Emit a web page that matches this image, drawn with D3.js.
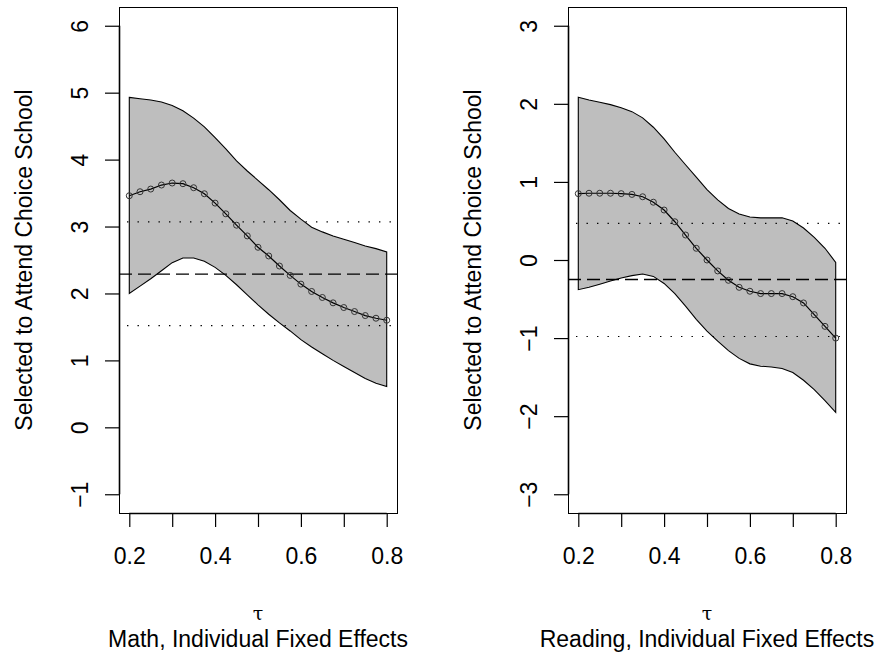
<!DOCTYPE html>
<html>
<head>
<meta charset="utf-8">
<script src="https://cdn.jsdelivr.net/npm/d3@7"></script>
<style>
body { margin: 0; background: #fff; }
text { font-family: "Liberation Sans", Arial, Helvetica, sans-serif; fill: #000; }
</style>
</head>
<body>
<svg id="figure_container"></svg>
<script>
// quantiles
var tau = [0.2, 0.225, 0.25, 0.275, 0.3, 0.325, 0.35, 0.375, 0.4, 0.425, 0.45, 0.475, 0.5,
	0.525, 0.55, 0.575, 0.6, 0.625, 0.65, 0.675, 0.7, 0.725, 0.75, 0.775, 0.8];

// math panel
var mathEst = [3.46, 3.52, 3.56, 3.62, 3.65, 3.64, 3.58, 3.49, 3.35, 3.19, 3.02, 2.86, 2.69,
	2.56, 2.41, 2.27, 2.14, 2.03, 1.94, 1.86, 1.79, 1.73, 1.67, 1.63, 1.60];
var mathUpper = [4.93, 4.91, 4.89, 4.86, 4.81, 4.73, 4.62, 4.49, 4.33, 4.16, 3.98, 3.83, 3.69,
	3.55, 3.40, 3.24, 3.11, 2.99, 2.92, 2.86, 2.81, 2.76, 2.71, 2.67, 2.62];
var mathLower = [2.00, 2.11, 2.22, 2.34, 2.46, 2.53, 2.53, 2.48, 2.39, 2.27, 2.13, 1.98, 1.83,
	1.69, 1.56, 1.44, 1.31, 1.20, 1.10, 1.00, 0.91, 0.82, 0.73, 0.66, 0.61];
var mathMean = 2.29,
	mathBounds = [3.07, 1.52],
	mathTicks = [-1, 0, 1, 2, 3, 4, 5, 6],
	mathLim = [-1, 6];

// reading panel
var readEst = [0.85, 0.855, 0.855, 0.855, 0.85, 0.84, 0.81, 0.74, 0.64, 0.49, 0.32, 0.15, 0.00,
	-0.14, -0.26, -0.35, -0.40, -0.43, -0.43, -0.43, -0.47, -0.55, -0.70, -0.85, -1.00];
var readUpper = [2.085, 2.05, 2.02, 1.99, 1.95, 1.90, 1.82, 1.70, 1.55, 1.38, 1.22, 1.06, 0.90,
	0.77, 0.66, 0.59, 0.55, 0.54, 0.54, 0.54, 0.50, 0.41, 0.29, 0.15, -0.03];
var readLower = [-0.38, -0.35, -0.31, -0.27, -0.23, -0.20, -0.18, -0.21, -0.30, -0.43, -0.59, -0.76, -0.91,
	-1.04, -1.16, -1.26, -1.33, -1.36, -1.37, -1.39, -1.44, -1.54, -1.66, -1.80, -1.95];
var readMean = -0.25,
	readBounds = [0.47, -0.98],
	readTicks = [-3, -2, -1, 0, 1, 2, 3],
	readLim = [-3, 3];

var xTicks = [0.2, 0.3, 0.4, 0.5, 0.6, 0.7, 0.8],
	xLabels = [0.2, 0.4, 0.6, 0.8],
	xLim = [0.2, 0.8];

var yTitle = "Selected to Attend Choice School",
	xTitle = "\u03c4",
	subtitles = ["Math, Individual Fixed Effects", "Reading, Individual Fixed Effects"];

var vis = d3.select("#figure_container"),
	plotwidth = 877,
	plotheight = 655,
	fontSize = 23;

vis.attr("width", plotwidth).attr("height", plotheight);
vis.append("rect").attr("width", plotwidth).attr("height", plotheight).attr("fill", "#fff");

var panels = [
	{left: 119, est: mathEst, upper: mathUpper, lower: mathLower, mean: mathMean,
		bounds: mathBounds, ticks: mathTicks, lim: mathLim, sub: subtitles[0]},
	{left: 568, est: readEst, upper: readUpper, lower: readLower, mean: readMean,
		bounds: readBounds, ticks: readTicks, lim: readLim, sub: subtitles[1]}
];

var boxW = 278, boxTop = 7, boxH = 506;

function ext(lim){
	// R style 4% axis extension
	var d = (lim[1] - lim[0]) * 0.04;
	return [lim[0] - d, lim[1] + d];
}

panels.forEach(function(p){
	var x = d3.scaleLinear().domain(ext(xLim)).range([p.left, p.left + boxW]),
		y = d3.scaleLinear().domain(ext(p.lim)).range([boxTop + boxH, boxTop]);

	var rows = tau.map(function(t, i){
		return {t: t, est: p.est[i], lo: p.lower[i], hi: p.upper[i]};
	});

	var g = vis.append("g");

	// confidence band
	var area = d3.area()
		.x(function(d){ return x(d.t); })
		.y0(function(d){ return y(d.lo); })
		.y1(function(d){ return y(d.hi); });
	g.append("path")
		.datum(rows)
		.attr("d", function(d){ return area(d) + "Z"; })
		.attr("fill", "#bebebe")
		.attr("stroke", "#000")
		.attr("stroke-width", 1.1);

	// reference lines
	var x0 = p.left, x1 = p.left + boxW;
	g.append("line")
		.attr("x1", x0).attr("x2", x1)
		.attr("y1", y(p.mean)).attr("y2", y(p.mean))
		.attr("stroke", "#000").attr("stroke-width", 1.3)
		.attr("stroke-dasharray", "13,6");
	g.selectAll("line.dot")
		.data(p.bounds)
		.enter()
		.append("line")
		.attr("class", "dot")
		.attr("x1", x0).attr("x2", x1)
		.attr("y1", function(d){ return y(d); })
		.attr("y2", function(d){ return y(d); })
		.attr("stroke", "#000").attr("stroke-width", 1.2)
		.attr("stroke-dasharray", "1.4,9.1")
		.attr("stroke-dashoffset", 2.5);

	// estimates
	var line = d3.line()
		.x(function(d){ return x(d.t); })
		.y(function(d){ return y(d.est); });
	g.append("path")
		.datum(rows)
		.attr("d", line)
		.attr("fill", "none")
		.attr("stroke", "#000")
		.attr("stroke-width", 1.2);
	g.selectAll("circle")
		.data(rows)
		.enter()
		.append("circle")
		.attr("cx", function(d){ return x(d.t); })
		.attr("cy", function(d){ return y(d.est); })
		.attr("r", 3)
		.attr("fill", "none")
		.attr("stroke", "#333")
		.attr("stroke-width", 1);

	// box
	g.append("rect")
		.attr("x", p.left + 0.5).attr("y", boxTop + 0.5)
		.attr("width", boxW).attr("height", boxH)
		.attr("fill", "none").attr("stroke", "#000").attr("stroke-width", 1);

	// y axis
	var yAxis = g.append("g")
		.attr("transform", "translate(" + p.left + ",0)")
		.call(d3.axisLeft(y).tickValues(p.ticks).tickSize(14).tickSizeOuter(0)
			.tickFormat(function(d){ return d < 0 ? "\u2212" + Math.abs(d) : d; }));
	yAxis.select(".domain").remove();
	yAxis.append("line")
		.attr("x1", 0.5).attr("x2", 0.5)
		.attr("y1", y(p.ticks[0])).attr("y2", y(p.ticks[p.ticks.length - 1]))
		.attr("stroke", "#000").attr("stroke-width", 1.6);
	yAxis.selectAll(".tick line").attr("stroke", "#000").attr("stroke-width", 1.2);
	yAxis.selectAll(".tick text")
		.attr("x", null).attr("dy", null)
		.attr("transform", "translate(-31,0) rotate(-90)")
		.attr("text-anchor", "middle")
		.style("font-family", "Liberation Sans, Arial, sans-serif")
		.style("font-size", fontSize + "px")
		.attr("fill", "#000");

	// x axis
	var xAxis = g.append("g")
		.attr("transform", "translate(0," + (boxTop + boxH) + ")")
		.call(d3.axisBottom(x).tickValues(xTicks).tickSize(14).tickSizeOuter(0)
			.tickFormat(function(d){ return xLabels.indexOf(d) >= 0 ? d3.format(".1f")(d) : ""; }));
	xAxis.select(".domain").remove();
	xAxis.append("line")
		.attr("x1", x(xTicks[0])).attr("x2", x(xTicks[xTicks.length - 1]))
		.attr("y1", 0.5).attr("y2", 0.5)
		.attr("stroke", "#000").attr("stroke-width", 1.6);
	xAxis.selectAll(".tick line").attr("stroke", "#000").attr("stroke-width", 1.2);
	xAxis.selectAll(".tick text")
		.attr("y", 51).attr("dy", null)
		.style("font-family", "Liberation Sans, Arial, sans-serif")
		.style("font-size", fontSize + "px")
		.attr("fill", "#000");

	// titles
	var cx = p.left + boxW / 2;
	g.append("text")
		.attr("transform", "translate(" + (p.left - 87) + "," + (boxTop + boxH / 2) + ") rotate(-90)")
		.attr("text-anchor", "middle")
		.style("font-size", fontSize + "px")
		.text(yTitle);
	g.append("text")
		.attr("x", cx).attr("y", boxTop + boxH + 107)
		.attr("text-anchor", "middle")
		.style("font-family", "DejaVu Serif, Liberation Serif, serif")
		.style("font-size", "19px")
		.text(xTitle);
	g.append("text")
		.attr("x", cx).attr("y", boxTop + boxH + 134)
		.attr("text-anchor", "middle")
		.style("font-size", fontSize + "px")
		.text(p.sub);
});
</script>
</body>
</html>
